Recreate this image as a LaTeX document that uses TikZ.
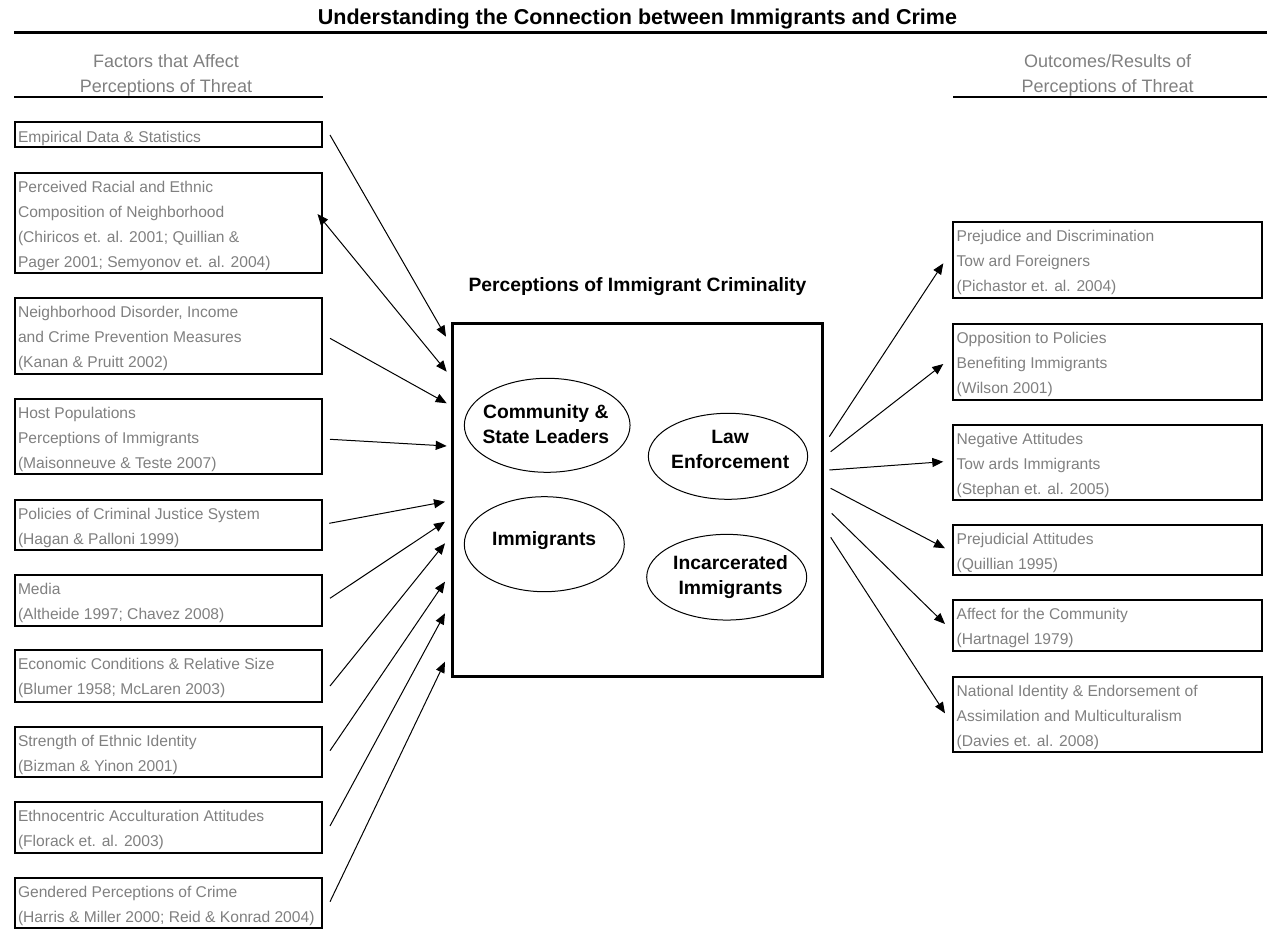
\documentclass[tikz,border=0pt]{standalone}
\usepackage{fontspec}
\setmainfont{Liberation Sans}
\usetikzlibrary{arrows.meta,shapes.geometric,calc}
\definecolor{txtgray}{RGB}{128,128,128}
\begin{document}
\begin{tikzpicture}[x=1pt,y=-1pt,
  lbox/.style={draw=black, line width=2pt, minimum width=307.3pt, anchor=north west, inner sep=0pt, outer sep=0pt},
  rbox/.style={lbox, minimum width=308.7pt},
  btxt/.style={anchor=north west, inner sep=0pt, align=left, text=txtgray,
     font=\fontsize{15.6}{25}\selectfont, execute at begin node={\rule{0pt}{12pt}}},
  hdr/.style={anchor=north, inner sep=0pt, align=center, text=txtgray,
     font=\fontsize{18}{25}\selectfont, execute at begin node={\rule{0pt}{14pt}}},
  ell/.style={draw=black, line width=1pt, ellipse, inner sep=0pt, outer sep=0pt},
  etxt/.style={anchor=north, inner sep=0pt, align=center,
     font=\fontsize{19.3}{25}\selectfont\bfseries, execute at begin node={\rule{0pt}{15pt}}},
  arr/.style={line width=1pt, -{Triangle[length=11pt,width=9pt]}},
  darr/.style={line width=1pt, {Triangle[length=11pt,width=9pt]}-{Triangle[length=11pt,width=9pt]}}
]
\useasboundingbox (0,0) rectangle (1267,941);

% title
\node[anchor=base, inner sep=0pt, font=\fontsize{21.5}{25}\selectfont\bfseries] (T) at (637.5,24.4)
  {Understanding the Connection between Immigrants and Crime};
\draw[line width=3pt] (14,32.3) -- (1267,32.3);

% column headers
\node[hdr] (HL) at (166,54.4) {Factors that Affect\\Perceptions of Threat};
\draw[line width=2pt] (14,96.7) -- (322.7,96.7);
\node[hdr] (HR) at (1107.6,54.4) {Outcomes/Results of\\Perceptions of Threat};
\draw[line width=2pt] (953.3,96.7) -- (1267,96.7);

% left boxes
\node[lbox, minimum height=24.4pt] (L1) at (14.7,122.3) {};
\node[btxt] (L1t) at (17.8,130.4) {Empirical Data \& Statistics};
\node[lbox, minimum height=100pt] (L2) at (14.7,172.7) {};
\node[btxt] (L2t) at (17.8,180.8) {Perceived Racial and Ethnic\\Composition of Neighborhood\\(Chiricos et. al. 2001; Quillian \&\\Pager 2001; Semyonov et. al. 2004)};
\node[lbox, minimum height=76.6pt] (L3) at (14.7,297.7) {};
\node[btxt] (L3t) at (17.8,305.8) {Neighborhood Disorder, Income\\and Crime Prevention Measures\\(Kanan \& Pruitt 2002)};
\node[lbox, minimum height=75pt] (L4) at (14.7,399.3) {};
\node[btxt] (L4t) at (17.8,407.4) {Host Populations\\Perceptions of Immigrants\\(Maisonneuve \& Teste 2007)};
\node[lbox, minimum height=50pt] (L5) at (14.7,500) {};
\node[btxt] (L5t) at (17.8,508.1) {Policies of Criminal Justice System\\(Hagan \& Palloni 1999)};
\node[lbox, minimum height=50.7pt] (L6) at (14.7,575) {};
\node[btxt] (L6t) at (17.8,583.1) {Media\\(Altheide 1997; Chavez 2008)};
\node[lbox, minimum height=51.7pt] (L7) at (14.7,650) {};
\node[btxt] (L7t) at (17.8,658.1) {Economic Conditions \& Relative Size\\(Blumer 1958; McLaren 2003)};
\node[lbox, minimum height=50.6pt] (L8) at (14.7,726.7) {};
\node[btxt] (L8t) at (17.8,734.8) {Strength of Ethnic Identity\\(Bizman \& Yinon 2001)};
\node[lbox, minimum height=51.6pt] (L9) at (14.7,801.7) {};
\node[btxt] (L9t) at (17.8,809.8) {Ethnocentric Acculturation Attitudes\\(Florack et. al. 2003)};
\node[lbox, minimum height=50.6pt] (L10) at (14.7,877.7) {};
\node[btxt] (L10t) at (17.8,885.8) {Gendered Perceptions of Crime\\(Harris \& Miller 2000; Reid \& Konrad 2004)};

% right boxes
\node[rbox, minimum height=76pt] (R1) at (953.3,221.7) {};
\node[btxt] (R1t) at (956.4,229.8) {Prejudice and Discrimination\\Tow ard Foreigners\\(Pichastor et. al. 2004)};
\node[rbox, minimum height=75.7pt] (R2) at (953.3,324.3) {};
\node[btxt] (R2t) at (956.4,332.4) {Opposition to Policies\\Benefiting Immigrants\\(Wilson 2001)};
\node[rbox, minimum height=75pt] (R3) at (953.3,425) {};
\node[btxt] (R3t) at (956.4,433.1) {Negative Attitudes\\Tow ards Immigrants\\(Stephan et. al. 2005)};
\node[rbox, minimum height=50pt] (R4) at (953.3,525) {};
\node[btxt] (R4t) at (956.4,533.1) {Prejudicial Attitudes\\(Quillian 1995)};
\node[rbox, minimum height=50.7pt] (R5) at (953.3,600) {};
\node[btxt] (R5t) at (956.4,608.1) {Affect for the Community\\(Hartnagel 1979)};
\node[rbox, minimum height=75pt] (R6) at (953.3,676.7) {};
\node[btxt] (R6t) at (956.4,684.8) {National Identity \& Endorsement of\\Assimilation and Multiculturalism\\(Davies et. al. 2008)};

% centre
\node[anchor=base, inner sep=0pt, font=\fontsize{19.3}{25}\selectfont\bfseries] (CT) at (637.5,291.9)
  {Perceptions of Immigrant Criminality};
\node[draw=black, line width=3pt, minimum width=370.4pt, minimum height=352.7pt, anchor=north west,
  inner sep=0pt, outer sep=0pt] (C) at (452.3,323.3) {};
\node[ell, minimum width=165.7pt, minimum height=94pt] (E1) at (547.2,425.3) {};
\node[etxt] (E1t) at (545.8,404.6) {Community \&\\State Leaders};
\node[ell, minimum width=159.3pt, minimum height=86pt] (E2) at (728,456.3) {};
\node[etxt] (E2t) at (730.2,430.2) {Law\\Enforcement};
\node[ell, minimum width=160pt, minimum height=95pt] (E3) at (544.3,544.2) {};
\node[etxt] (E3t) at (544.2,530.2) {Immigrants};
\node[ell, minimum width=160pt, minimum height=85.7pt] (E4) at (726.7,577.2) {};
\node[etxt] (E4t) at (730.6,555.2) {Incarcerated\\Immigrants};

% connector end points
\coordinate (a1s) at (330,135);     \coordinate (a1e) at (446,336.7);
\coordinate (a2s) at (317.5,214);   \coordinate (a2e) at (446.7,371.7);
\coordinate (a3s) at (330,338.3);   \coordinate (a3e) at (446.7,403.3);
\coordinate (a4s) at (330,439.3);   \coordinate (a4e) at (446.7,446);
\coordinate (a5s) at (329.3,523.3); \coordinate (a5e) at (445,501.7);
\coordinate (a6s) at (330,598.3);   \coordinate (a6e) at (445,521.7);
\coordinate (a7s) at (330,686);     \coordinate (a7e) at (445,543.3);
\coordinate (a8s) at (330,750.7);   \coordinate (a8e) at (445,581.7);
\coordinate (a9s) at (330,826);     \coordinate (a9e) at (445,613.3);
\coordinate (a10s) at (330,901.7);  \coordinate (a10e) at (445,661.7);

\coordinate (b1s) at (829.3,436.7); \coordinate (b1e) at (943.3,263.3);
\coordinate (b2s) at (830.7,451.7); \coordinate (b2e) at (943.3,364);
\coordinate (b3s) at (829.3,470);   \coordinate (b3e) at (943.3,461.7);
\coordinate (b4s) at (830.7,488.3); \coordinate (b4e) at (945,548.3);
\coordinate (b5s) at (831.7,513.3); \coordinate (b5e) at (945,624);
\coordinate (b6s) at (830.7,537.3); \coordinate (b6e) at (945,713.3);

\draw[arr] (a1s) -- (a1e);
\draw[darr] (a2s) -- (a2e);
\draw[arr] (a3s) -- (a3e);
\draw[arr] (a4s) -- (a4e);
\draw[arr] (a5s) -- (a5e);
\draw[arr] (a6s) -- (a6e);
\draw[arr] (a7s) -- (a7e);
\draw[arr] (a8s) -- (a8e);
\draw[arr] (a9s) -- (a9e);
\draw[arr] (a10s) -- (a10e);

\draw[arr] (b1s) -- (b1e);
\draw[arr] (b2s) -- (b2e);
\draw[arr] (b3s) -- (b3e);
\draw[arr] (b4s) -- (b4e);
\draw[arr] (b5s) -- (b5e);
\draw[arr] (b6s) -- (b6e);
\end{tikzpicture}
\end{document}
